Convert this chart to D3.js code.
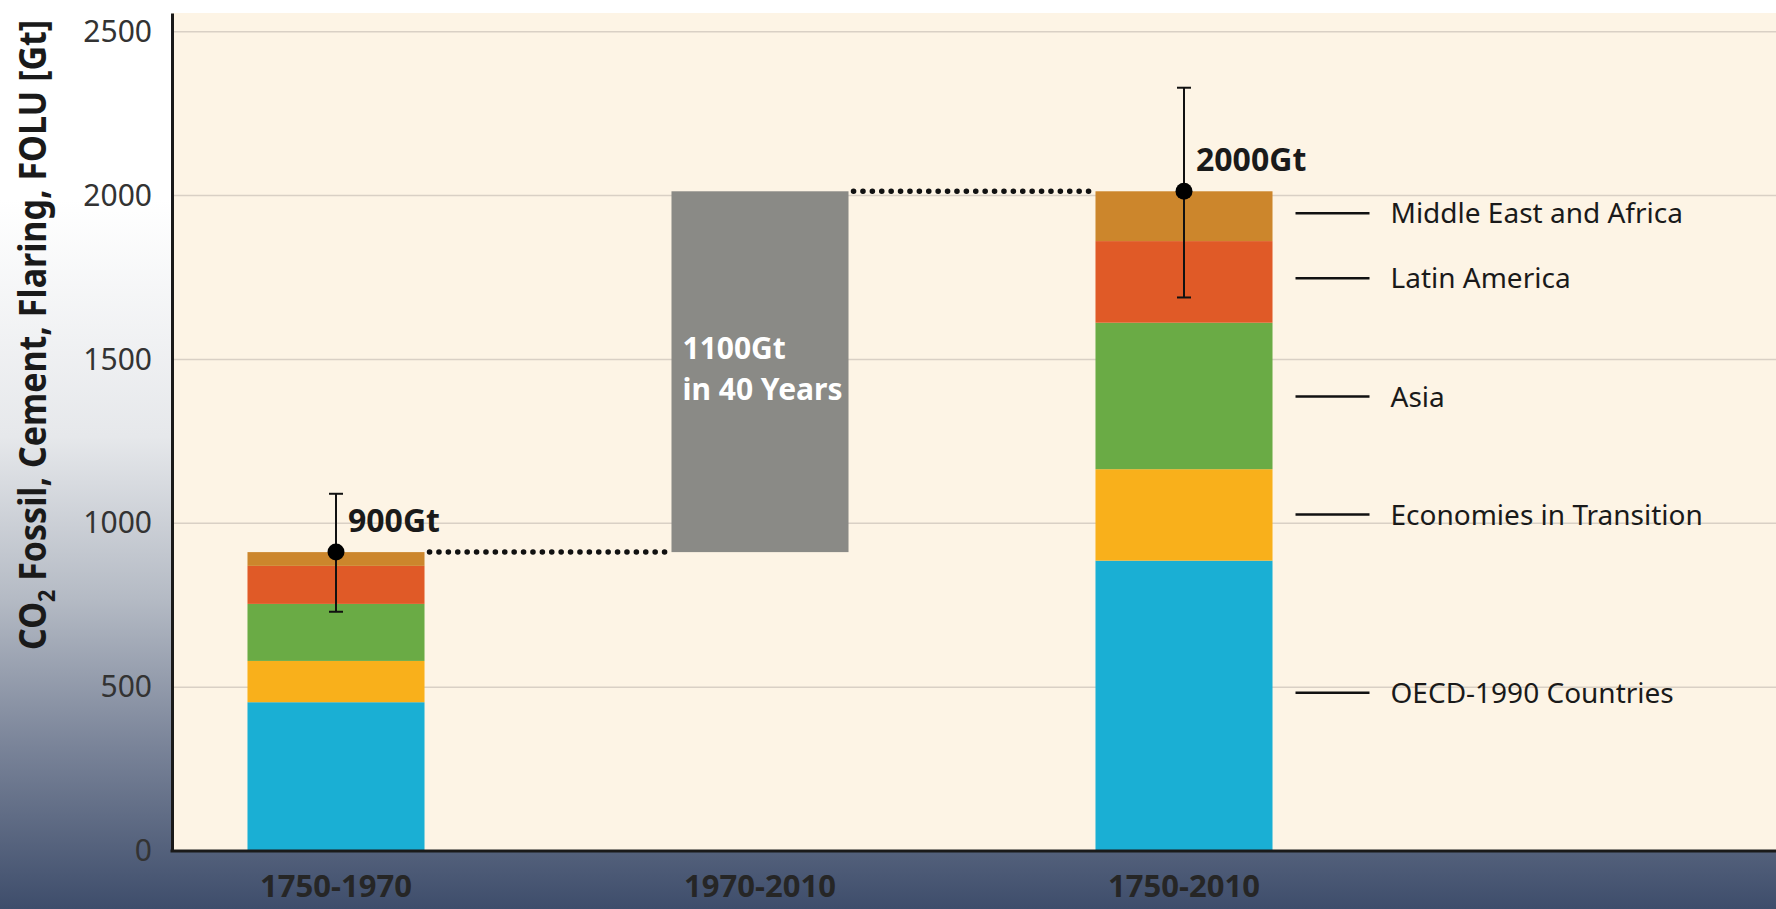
<!DOCTYPE html>
<head>
  <title>Cumulative CO2 emissions by region</title>
  <style>
    body { margin: 0; }
    svg { display: block; }
    .tick text { font-family: "Noto Sans", sans-serif; }
  </style>
</head>
<body>
  <script src="https://cdn.jsdelivr.net/npm/d3@7"></script>
  <script>
    // data
    var periods = ["1750-1970", "1970-2010", "1750-2010"];
    var regions = ["OECD-1990 Countries", "Economies in Transition", "Asia", "Latin America", "Middle East and Africa"];
    var regionColors = ["#1aafd4", "#f9b01b", "#6aab45", "#e05a27", "#cc862c"];
    var stack1750to1970 = [454, 126, 174, 116, 42];
    var stack1750to2010 = [886, 279, 447, 249, 152];
    var legendAt = [483, 1027, 1387, 1748, 1946];   // where each legend tick sits on the y scale
    var totalLabels = ["900Gt", "2000Gt"];
    var errLow = [730, 1689];
    var errHigh = [1090, 2329];
    var gapLabel = ["1100Gt", "in 40 Years"];
    var yTicks = [0, 500, 1000, 1500, 2000, 2500];

    var w = 1776, h = 909;
    // plot box (note: "top" is reserved on window, so use plot* names)
    var plotL = 172, plotR = 1776, plotT = 13, plotB = 851;

    var svg = d3.select("body").append("svg")
      .attr("width", w)
      .attr("height", h);

    // page background gradient
    var defs = svg.append("defs");
    var grad = defs.append("linearGradient")
      .attr("id", "bg").attr("x1", 0).attr("y1", 0).attr("x2", 0).attr("y2", 1);
    [["0%", "#ffffff"], ["22%", "#ffffff"], ["48%", "#e6e8eb"], ["66%", "#b4bac4"],
     ["82%", "#7a8499"], ["100%", "#3e4d6b"]].forEach(function(s) {
      grad.append("stop").attr("offset", s[0]).attr("stop-color", s[1]);
    });
    svg.append("rect").attr("width", w).attr("height", h).attr("fill", "url(#bg)");

    // scales
    var y = d3.scaleLinear().domain([0, 2557]).range([plotB, plotT]);
    var x = d3.scaleBand().domain(periods).range([124, 1396])
      .paddingInner(0.5825).paddingOuter(0.29125);
    var bw = x.bandwidth();
    var cx = function(p) { return x(p) + bw / 2; };

    // plot area
    svg.append("rect")
      .attr("x", plotL).attr("y", plotT)
      .attr("width", plotR - plotL).attr("height", plotB - plotT)
      .attr("fill", "#fdf4e5");

    // gridlines
    svg.append("g").selectAll("line")
      .data(yTicks.slice(1))
      .enter().append("line")
      .attr("x1", plotL).attr("x2", plotR)
      .attr("y1", function(d) { return y(d); })
      .attr("y2", function(d) { return y(d); })
      .attr("stroke", "#d9d0c5")
      .attr("stroke-width", 1.5);

    // stacked bars
    function stackRows(vals) {
      var acc = 0;
      return vals.map(function(v, i) {
        var r = { y0: acc, y1: acc + v, color: regionColors[i], region: regions[i] };
        acc += v;
        return r;
      });
    }
    var bars = [
      { period: periods[0], rows: stackRows(stack1750to1970) },
      { period: periods[2], rows: stackRows(stack1750to2010) }
    ];
    var total1 = d3.sum(stack1750to1970);
    var total2 = d3.sum(stack1750to2010);
    var totals = [total1, total2];

    bars.forEach(function(b) {
      svg.append("g").selectAll("rect")
        .data(b.rows)
        .enter().append("rect")
        .attr("x", x(b.period))
        .attr("width", bw)
        .attr("y", function(d) { return y(d.y1); })
        .attr("height", function(d) { return y(d.y0) - y(d.y1); })
        .attr("fill", function(d) { return d.color; });
    });

    // grey 1970-2010 bar
    svg.append("rect")
      .attr("x", x(periods[1]))
      .attr("width", bw)
      .attr("y", y(total2))
      .attr("height", y(total1) - y(total2))
      .attr("fill", "#8a8a86");

    svg.append("text")
      .attr("x", x(periods[1]) + 11)
      .attr("y", y(total2) + 168)
      .attr("fill", "#ffffff")
      .style("font-family", "Noto Sans, sans-serif")
      .style("font-weight", "bold")
      .style("font-size", "30px")
      .selectAll("tspan")
      .data(gapLabel)
      .enter().append("tspan")
      .attr("x", x(periods[1]) + 11)
      .attr("dy", function(d, i) { return i === 0 ? 0 : 41; })
      .text(function(d) { return d; });

    // dotted connectors
    var dotted = [
      { x1: x(periods[0]) + bw, x2: x(periods[1]), v: total1 },
      { x1: x(periods[1]) + bw, x2: x(periods[2]), v: total2 }
    ];
    svg.append("g").selectAll("line")
      .data(dotted)
      .enter().append("line")
      .attr("x1", function(d) { return d.x1 + 5; })
      .attr("x2", function(d) { return d.x2 - 1; })
      .attr("y1", function(d) { return y(d.v); })
      .attr("y2", function(d) { return y(d.v); })
      .attr("stroke", "#111")
      .attr("stroke-width", 5.5)
      .attr("stroke-linecap", "round")
      .attr("stroke-dasharray", "0.1 9.3");

    // error bars and totals
    var errPeriods = [periods[0], periods[2]];
    errPeriods.forEach(function(p, i) {
      var g = svg.append("g");
      var ex = cx(p);
      g.append("line").attr("x1", ex).attr("x2", ex)
        .attr("y1", y(errLow[i])).attr("y2", y(errHigh[i]))
        .attr("stroke", "#111").attr("stroke-width", 2);
      [errLow[i], errHigh[i]].forEach(function(v) {
        g.append("line").attr("x1", ex - 7).attr("x2", ex + 7)
          .attr("y1", y(v)).attr("y2", y(v))
          .attr("stroke", "#111").attr("stroke-width", 2);
      });
      g.append("circle").attr("cx", ex).attr("cy", y(totals[i]))
        .attr("r", 8.5).attr("fill", "#000");
      g.append("text")
        .attr("x", ex + 12)
        .attr("y", y(totals[i]) - 20)
        .attr("fill", "#1a1a1a")
        .style("font-family", "Noto Sans, sans-serif")
        .style("font-weight", "bold")
        .style("font-size", "32px")
        .text(totalLabels[i]);
    });

    // legend next to the 1750-2010 bar
    var leg = svg.append("g").selectAll("g")
      .data(regions)
      .enter().append("g")
      .attr("transform", function(d, i) {
        return "translate(0," + y(legendAt[i]) + ")";
      });
    leg.append("line")
      .attr("x1", x(periods[2]) + bw + 23)
      .attr("x2", x(periods[2]) + bw + 97)
      .attr("stroke", "#111").attr("stroke-width", 2.5);
    leg.append("text")
      .attr("x", x(periods[2]) + bw + 118)
      .attr("dy", "0.36em")
      .attr("fill", "#1a1a1a")
      .style("font-family", "Noto Sans, sans-serif")
      .style("font-size", "28px")
      .text(function(d) { return d; });

    // y axis
    var yAxis = d3.axisLeft(y).tickValues(yTicks).tickSize(0).tickPadding(20)
      .tickFormat(d3.format("d"));
    var ya = svg.append("g")
      .attr("transform", "translate(" + plotL + ",0)")
      .call(yAxis);
    ya.select(".domain").attr("stroke", "#1a1a1a").attr("stroke-width", 3);
    ya.selectAll(".tick text")
      .attr("fill", "#333")
      .style("font-size", "30px");

    // x axis
    var xAxis = d3.axisBottom(x).tickSize(0).tickPadding(24);
    var xa = svg.append("g")
      .attr("transform", "translate(0," + plotB + ")")
      .call(xAxis);
    xa.select(".domain").remove();
    xa.selectAll(".tick text")
      .attr("fill", "#262626")
      .style("font-size", "31px")
      .style("font-weight", "bold");
    svg.append("line")
      .attr("x1", plotL - 1.5).attr("x2", plotR)
      .attr("y1", plotB).attr("y2", plotB)
      .attr("stroke", "#1a1a1a").attr("stroke-width", 3);

    // y axis title
    var title = svg.append("text")
      .attr("transform", "translate(46,335) rotate(-90)")
      .attr("text-anchor", "middle")
      .attr("fill", "#1a1a1a")
      .attr("textLength", 630)
      .attr("lengthAdjust", "spacingAndGlyphs")
      .style("font-family", "Noto Sans, sans-serif")
      .style("font-weight", "bold")
      .style("font-size", "38px");
    title.append("tspan").text("CO");
    title.append("tspan").attr("dy", 9).style("font-size", "24px").text("2");
    title.append("tspan").attr("dy", -9).text(" Fossil, Cement, Flaring, FOLU [Gt]");
  </script>
</body>
